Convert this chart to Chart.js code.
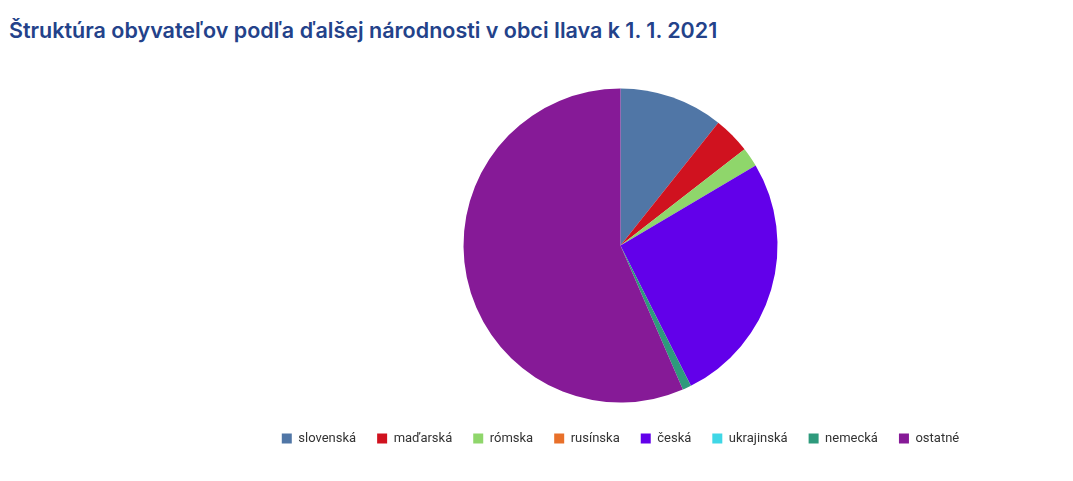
<!DOCTYPE html>
<html>
<head>
<meta charset="utf-8">
<script src="https://cdn.jsdelivr.net/npm/chart.js@4"></script>
<style>
    body { margin: 0; background: #fff; }
    .chart-title {
        position: absolute; left: 9px; top: 17px; margin: 0;
        font-family: Inter, "Noto Sans", sans-serif; font-size: 21.5px; font-weight: 600;
        color: #23428a;
    }
    .chart-wrap { position: absolute; left: 0; top: 0; width: 1073px; height: 481px; }
</style>
</head>
<body>
<h2 class="chart-title">Štruktúra obyvateľov podľa ďalšej národnosti v obci Ilava k 1. 1. 2021</h2>
<div class="chart-wrap"><canvas id="pieChart"></canvas></div>
<script>
// Nationalities (share in %)
const categories = ['slovenská', 'maďarská', 'rómska', 'rusínska', 'česká', 'ukrajinská', 'nemecká', 'ostatné'];
const values = [10.7, 3.8, 2.0, 0, 26.1, 0, 0.9, 56.5];
const colors = ['#5076a6', '#d0121f', '#8fd66b', '#e8702a', '#6200ea', '#3fd7e6', '#2e9a7c', '#861a97'];

document.addEventListener('DOMContentLoaded', function() {
    const ctx = document.getElementById('pieChart');
    new Chart(ctx, {
        type: 'pie',
        data: {
            labels: categories,
            datasets: [{
                data: values,
                backgroundColor: colors,
                borderWidth: 0,
                radius: 157
            }]
        },
        options: {
            responsive: true,
            maintainAspectRatio: false,
            animation: false,
            layout: { padding: { left: 168, top: 80, bottom: 26 } },
            plugins: {
                tooltip: { enabled: false },
                legend: {
                    position: 'bottom',
                    labels: {
                        boxWidth: 10,
                        boxHeight: 10,
                        padding: 21,
                        color: '#333',
                        font: { family: 'Roboto, sans-serif', size: 13 }
                    }
                }
            }
        }
    });
});
</script>
</body>
</html>
